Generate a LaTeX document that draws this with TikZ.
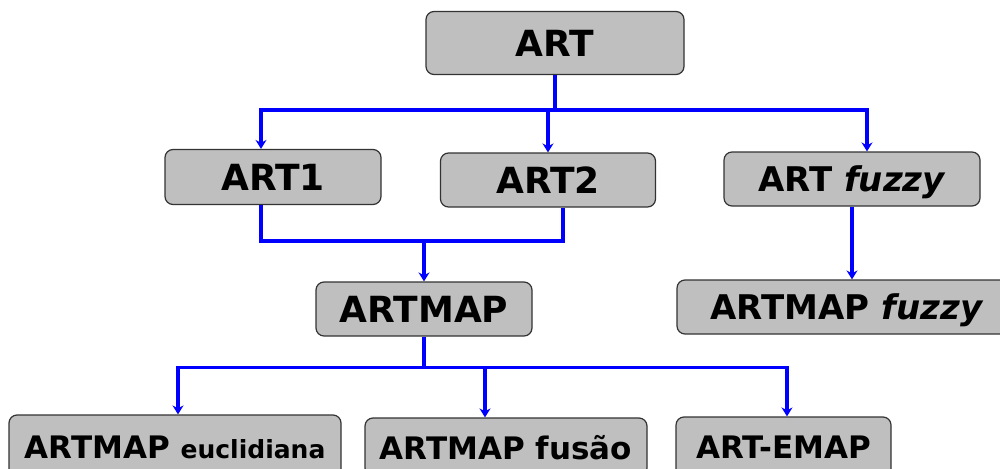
\documentclass[tikz,border=0pt]{standalone}
\usepackage{fontspec}
\setmainfont{DejaVu Sans}
\usetikzlibrary{arrows.meta, positioning}

\begin{document}
\begin{tikzpicture}[x=1pt, y=-1pt,
  box/.style={rectangle, rounded corners=8pt, draw=black!80, line width=1.2pt, fill=gray!50, inner sep=0pt, text depth=0pt},
  big/.style={font=\bfseries\fontsize{36}{40}\selectfont},
  mid/.style={font=\bfseries\fontsize{34}{38}\selectfont},
  low/.style={font=\bfseries\fontsize{31}{35}\selectfont},
  link/.style={draw=blue, line width=3.5pt},
  flow/.style={link, -{Stealth[length=9pt, width=11pt, inset=3pt]}}]

        \useasboundingbox (0,0) rectangle (1000,468);

        \node[box, big, minimum width=258pt, minimum height=63pt] (art) at (555,43) {ART};

        \node[box, big, minimum width=216pt, minimum height=55pt] (art1) at (273,177) {ART1};
        \node[box, big, minimum width=215pt, minimum height=54pt] (art2) at (548,180) {ART2};
        \node[box, mid, minimum width=256pt, minimum height=54pt] (artfz) at (852,179) {ART \textit{fuzzy}};

        \node[box, big, minimum width=216pt, minimum height=54pt] (artmap) at (424,309) {ARTMAP};
        \node[box, mid, minimum width=340pt, minimum height=54pt] (artmapfz) at (847,307) {ARTMAP \textit{fuzzy}};

        \node[box, low, minimum width=332pt, minimum height=64pt] (euc) at (175,447) {ARTMAP {\fontsize{25}{28}\selectfont euclidiana}};
        \node[box, low, minimum width=282pt, minimum height=58pt] (fus) at (506,447) {ARTMAP fusão};
        \node[box, low, minimum width=215pt, minimum height=60pt] (emap) at (783.5,447) {ART-EMAP};

        % arrow targets
        \coordinate (in1) at ([xshift=-12pt]art1.north);
        \coordinate (in2) at (art2.north);
        \coordinate (in3) at ([xshift=15pt]artfz.north);
        \coordinate (in4) at ([xshift=3pt]euc.north);
        \coordinate (in5) at ([xshift=-21pt]fus.north);
        \coordinate (in6) at ([xshift=3.5pt]emap.north);

        % ART to first level
        \draw[link] (art.south) -- ++(0,35) coordinate (bus1);
        \draw[flow] (bus1) -| (in1);
        \draw[flow] (bus1) -| (in3);
        \draw[flow] (in2 |- bus1) -- (in2);

        % ART1 and ART2 to ARTMAP
        \draw[link] ([xshift=-12pt]art1.south) -- ++(0,36) coordinate (bus2) -| ([xshift=15pt]art2.south);
        \draw[flow] (artmap.north |- bus2) -- (artmap.north);

        % fuzzy
        \draw[flow] (artfz.south) -- (artfz.south |- artmapfz.north);

        % ARTMAP to last level
        \draw[link] (artmap.south) -- ++(0,31) coordinate (bus3);
        \draw[flow] (bus3) -| (in4);
        \draw[flow] (bus3) -| (in6);
        \draw[flow] (in5 |- bus3) -- (in5);

\end{tikzpicture}
\end{document}
